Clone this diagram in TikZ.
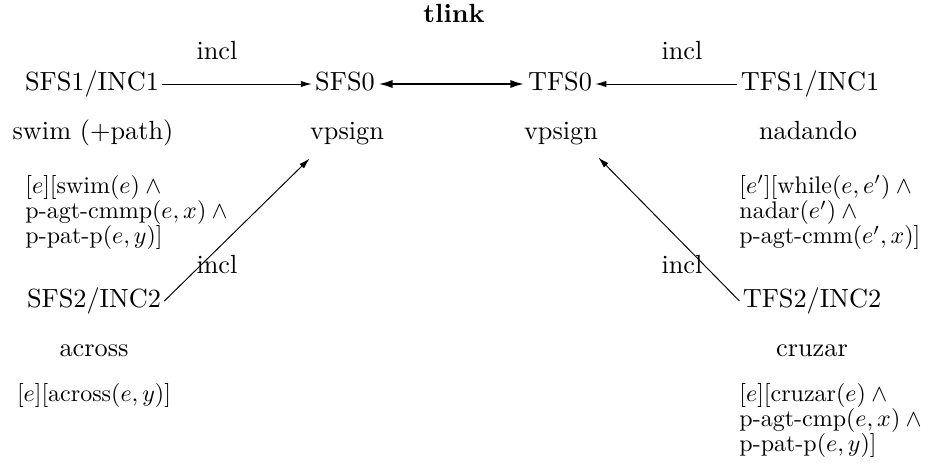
\documentclass[tikz,border=0pt]{standalone}
\usetikzlibrary{arrows.meta}
\begin{document}
\begin{tikzpicture}[x=0.4167pt,y=-0.4167pt,
  lab/.style={font=\fontsize{10.95}{13}\selectfont, inner sep=1.2pt, text height=8.2pt, text depth=2.7pt},
  form/.style={font=\fontsize{10}{10.5}\selectfont, inner sep=0pt, align=left},
  arr/.style={-{Latex[length=4.6pt,width=2.6pt]}, line width=0.4pt},
  tarr/.style={{Latex[length=6pt,width=3.4pt]}-{Latex[length=6pt,width=3.4pt]}, line width=1pt}]
\useasboundingbox (0,0) rectangle (930,468);
% title
\node[lab, font=\fontsize{10.95}{13}\selectfont\bfseries] (tl) at (454,16) {tlink};
% top row
\node[lab] (i1) at (217,53) {incl};
\node[lab] (i2) at (682,53) {incl};
\node[lab] (sfs1) at (92,84) {SFS1/INC1};
\node[lab] (sfs0) at (345,84) {SFS0};
\node[lab] (tfs0) at (560,84) {TFS0};
\node[lab] (tfs1) at (810,84) {TFS1/INC1};
% second row
\node[lab] (swim) at (93,133) {swim (+path)};
\node[lab] (vpl) at (347,133) {vpsign};
\node[lab] (vpr) at (561,133) {vpsign};
\node[lab] (nad) at (808,133) {nadando};
% upper formulas
\node[form, anchor=north west] (fl1) at (25,175)
  {$[e][\textrm{swim}(e)\wedge{}$\\
   $\textrm{p-agt-cmmp}(e,x)\wedge{}$\\
   $\textrm{p-pat-p}(e,y)]$};
\node[form, anchor=north west] (fr1) at (739,175)
  {$[e'][\textrm{while}(e,e')\wedge{}$\\
   $\textrm{nadar}(e')\wedge{}$\\
   $\textrm{p-agt-cmm}(e',x)]$};
% lower row
\node[lab] (i3) at (217,267) {incl};
\node[lab] (i4) at (682,267) {incl};
\node[lab] (sfs2) at (94,301) {SFS2/INC2};
\node[lab] (tfs2) at (812,301) {TFS2/INC2};
\node[lab] (acr) at (94,350) {across};
\node[lab] (cru) at (812,350) {cruzar};
\node[form] (fl2) at (94,395) {$[e][\textrm{across}(e,y)]$};
\node[form, anchor=north west] (fr2) at (739,383)
  {$[e][\textrm{cruzar}(e)\wedge{}$\\
   $\textrm{p-agt-cmp}(e,x)\wedge{}$\\
   $\textrm{p-pat-p}(e,y)]$};
% connectors
\draw[arr] (sfs1.east) -- (sfs0.west);
\draw[tarr] (sfs0.east) -- (tfs0.west);
\draw[arr] (tfs1.west) -- (tfs0.east);
\draw[arr] (sfs2.east) -- ([shift={(3,9)}]vpl.south west);
\draw[arr] (tfs2.west) -- ([shift={(-3,8)}]vpr.south east);
\end{tikzpicture}
\end{document}
